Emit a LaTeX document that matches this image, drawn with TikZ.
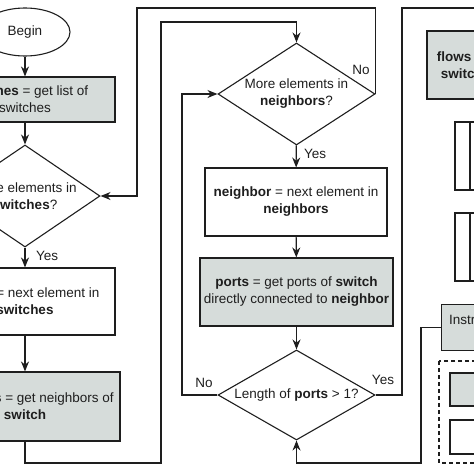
\documentclass[tikz,border=0pt]{standalone}
\usepackage{fontspec}
\setmainfont{Liberation Sans}
\usetikzlibrary{shapes.geometric,arrows.meta}
\definecolor{boxgray}{RGB}{214,220,218}
\definecolor{inkline}{RGB}{30,30,30}
\begin{document}
\begin{tikzpicture}[x=1pt,y=-1pt,
	every node/.style={font=\fontsize{13.5}{17}\selectfont, text=inkline},
	flowline/.style={draw=inkline, line width=1.1pt},
	arr/.style={flowline, -{Stealth[length=10pt,width=8pt]}},
	procbox/.style={draw=inkline, line width=1.1pt, rectangle, align=center, inner sep=0pt},
	graybox/.style={procbox, fill=boxgray},
	decision/.style={draw=inkline, line width=1.1pt, diamond, align=center, inner sep=0pt, aspect=1.5},
	startnode/.style={draw=inkline, line width=1.1pt, ellipse, inner sep=0pt}]
	\useasboundingbox (0,0) rectangle (474,474);
	\clip (0,0) rectangle (474,474);
	% left column: loop over switches
	\node[startnode, minimum width=90pt, minimum height=48pt] (begin) at (25,32) {Begin};
	\node[graybox, minimum width=180pt, minimum height=45pt] (swlist) at (25,99.5) {\textbf{switches} = get list of\\switches};
	\node[decision, minimum width=150pt, minimum height=102pt] (dsw) at (25,196) {More elements in\\\textbf{switches}?};
	\node[procbox, minimum width=180pt, minimum height=67pt] (swbox) at (25,301.5) {\textbf{switch} = next element in\\\textbf{switches}};
	\node[graybox, minimum width=190pt, minimum height=69pt] (nbrs) at (25,406.5) {\textbf{neighbors} = get neighbors of\\\textbf{switch}};
	% middle column: loop over neighbors
	\node[decision, minimum width=157pt, minimum height=102pt] (dnb) at (296.5,94) {More elements in\\\textbf{neighbors}?};
	\node[procbox, minimum width=182pt, minimum height=68pt] (nbr) at (296,202) {\textbf{neighbor} = next element in\\\textbf{neighbors}};
	\node[graybox, minimum width=193pt, minimum height=68pt] (ports) at (296.5,292) {\textbf{ports} = get ports of \textbf{switch}\\directly connected to \textbf{neighbor}};
	\node[decision, aspect=1.74, minimum width=157pt, minimum height=90pt] (len) at (296.5,395) {Length of \textbf{ports} > 1?};
	% right column
	\node[graybox, minimum width=69.5pt, minimum height=68pt] (flows) at (461.75,65) {\textbf{flows} of\\\textbf{switch}};
	\foreach \y in {122,213}{
		\draw[flowline] (455,\y) rectangle (500,\y+68);
		\draw[flowline] (470,\y) -- (470,\y+68);
	}
	\node[graybox, anchor=north west, minimum width=80pt, minimum height=46pt] (instr) at (441,304) {};
	\node[anchor=west, inner sep=0pt] (instrtext) at (449,320) {Instructions};
	\draw[flowline, dashed, dash pattern=on 4pt off 3pt] (439,361) rectangle (520,463);
	\draw[flowline, fill=boxgray] (450,373) rectangle (520,406);
	\draw[flowline] (450,420) rectangle (520,454);
	% bends
	\coordinate (lowL) at (161,463);
	\coordinate (topM) at (161,22);
	\coordinate (topL) at (137,8);
	\coordinate (midL) at (182,395);
	\coordinate (rightTop) at (402,8);
	\coordinate (offRight) at (490,8);
	\coordinate (lowR) at (421,463);
	% connectors
	\draw[arr] (begin) -- (swlist);
	\draw[arr] (swlist) -- (dsw);
	\draw[arr] (dsw) -- (swbox);
	\draw[arr] (swbox) -- (nbrs);
	\draw[arr] (nbrs.south) |- (lowL) -- (topM) -| (dnb.north);
	\draw[arr] (dnb.east) |- (topL) |- (dsw.east);
	\draw[arr] (dnb) -- (nbr);
	\draw[arr] (nbr) -- (ports);
	\draw[arr] (ports) -- (len);
	\draw[arr] (len.west) -- (midL) |- (dnb.west);
	\draw[flowline] (len.east) -| (rightTop) -- (offRight);
	\draw[arr] (instr.west) -| (lowR) -| (len.south);
	% labels
	\node[anchor=west, inner sep=0pt] (yessw) at (36,256) {Yes};
	\node[anchor=west, inner sep=0pt] (yesnb) at (304,154) {Yes};
	\node[inner sep=0pt] (nonb) at (361,70) {No};
	\node[inner sep=0pt] (nolen) at (204,383) {No};
	\node[inner sep=0pt] (yeslen) at (383,380) {Yes};
\end{tikzpicture}
\end{document}
